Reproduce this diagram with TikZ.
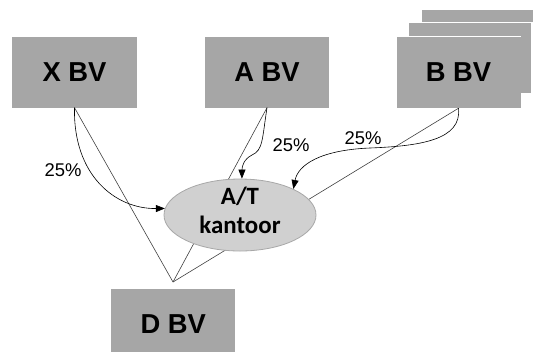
\documentclass[tikz,border=0pt]{standalone}
\usepackage{fontspec}
\setmainfont{Liberation Sans}
\newfontfamily\carlito{Carlito}
\usetikzlibrary{arrows.meta,shapes.geometric}
\definecolor{boxgray}{HTML}{A6A6A6}
\definecolor{ellgray}{HTML}{D0D0D0}
\definecolor{ellline}{HTML}{A8A8A8}
\definecolor{linegray}{HTML}{404040}
\tikzset{
  bvbox/.style={fill=boxgray,draw=none,minimum width=124bp,minimum height=71bp,inner sep=0,
    font=\fontsize{27.5}{30}\selectfont\bfseries},
  stackbox/.style={fill=boxgray,draw=white,line width=1.5bp,minimum width=124bp,minimum height=71bp,inner sep=0},
  pct/.style={font=\fontsize{18.5}{20}\selectfont,inner sep=0},
  ovaltext/.style={font=\carlito\fontsize{25}{29}\selectfont\bfseries,inner sep=0,anchor=base},
  oval/.style={ellipse,fill=ellgray,draw=ellline,line width=0.8bp,minimum width=152bp,minimum height=72bp,inner sep=0},
  thinline/.style={draw=linegray,line width=0.6bp},
  flow/.style={draw=black,line width=0.6bp,-{Triangle[length=9bp,width=7bp]}}
}
\begin{document}
\begin{tikzpicture}[x=1bp,y=-1bp]
\useasboundingbox (0,0) rectangle (533,351);
% boxes
\node[bvbox] (xbv) at (74.5,72) {X BV};
\node[bvbox] (abv) at (267,72) {A BV};
\node[stackbox] (bback2) at (483,44.5) {};
\node[stackbox] (bback1) at (470,58) {};
\node[stackbox] (bbv) at (458.5,72) {};
\node[bvbox] (bbvtext) at (458.5,72) {B BV};
\node[bvbox] (dbv) at (173.3,324.5) {D BV};
\coordinate (dtop) at (173,282);
% straight lines to D BV
\draw[thinline] (xbv.south) -- (dtop);
\draw[thinline] (abv.south) -- (dtop);
\draw[thinline] (bbv.south) -- (dtop);
% oval
\node[oval] (at) at (240,215) {};
\node[ovaltext] (at1) at (240,204.3) {A/T};
\node[ovaltext] (at2) at (240,233.3) {kantoor};
% flows
\draw[flow] (xbv.south) .. controls (73,175) and (115,209) .. (at.175);
\draw[flow] (abv.south) .. controls (262,140) and (263,150) .. (252,155)
  .. controls (244,159) and (242,166) .. (at.87);
\draw[flow] (bbv.south) .. controls (462,140) and (420,146) .. (370,148)
  .. controls (320,150) and (298,165) .. (at.26);
% labels
\node[pct] (p1) at (63,170) {25\%};
\node[pct] (p2) at (291,145) {25\%};
\node[pct] (p3) at (363,138) {25\%};
\end{tikzpicture}
\end{document}
